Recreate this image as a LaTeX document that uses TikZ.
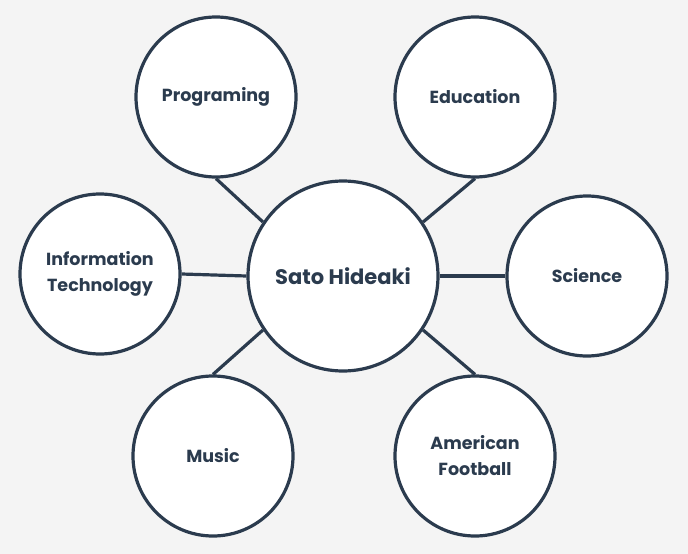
\documentclass[tikz,border=0pt]{standalone}
\usepackage{fontspec}
\setmainfont{Poppins}
\definecolor{ink}{HTML}{2B3B4E}
\definecolor{paper}{HTML}{F4F4F4}
\begin{document}
\begin{tikzpicture}[x=1pt,y=-1pt,
  topic/.style={circle,draw=ink,fill=white,line width=3.2pt,minimum size=160pt,inner sep=0pt,
    text=ink,font=\bfseries\fontsize{17.5}{26}\selectfont,align=center},
  hub/.style={topic,minimum size=190pt,font=\bfseries\fontsize{21}{26}\selectfont},
  link/.style={draw=ink,line width=3.2pt}]
  \fill[paper] (0,0) rectangle (688,554);
  \useasboundingbox (0,0) rectangle (688,554);

  \node[hub]   (c)    at (343,276) {Sato Hideaki};
  \node[topic] (prog) at (216,97)  {Programing};
  \node[topic] (edu)  at (475,97)  {Education};
  \node[topic] (it)   at (100,274) {Information\\Technology};
  \node[topic] (sci)  at (587,276) {Science};
  \node[topic] (mus)  at (213,456) {Music};
  \node[topic] (fb)   at (475,456) {American\\Football};

  \draw[link] (prog.south) -- (c.146);
  \draw[link] (edu.south)  -- (c.34);
  \draw[link] (it.east)    -- (c.west);
  \draw[link] (sci.west)   -- (c.east);
  \draw[link] (mus.north)  -- (c.214);
  \draw[link] (fb.north)   -- (c.-34);
\end{tikzpicture}
\end{document}
